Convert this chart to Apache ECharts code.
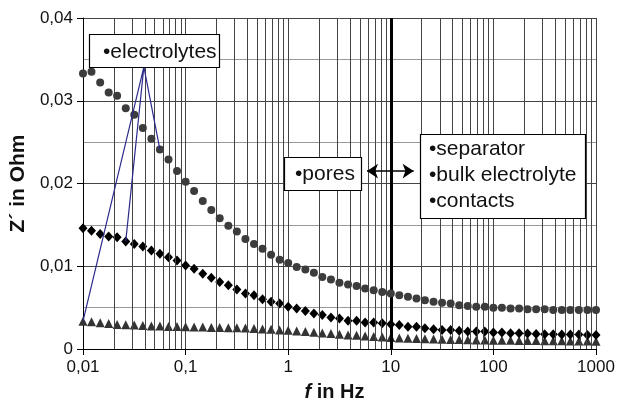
<!DOCTYPE html>
<html>
<head>
<meta charset="utf-8">
<script src="https://cdn.jsdelivr.net/npm/echarts@6/dist/echarts.min.js"></script>
<style>
    html, body { margin: 0; padding: 0; background: #fff; }
    #chart { width: 621px; height: 407px; }
</style>
</head>
<body>
<div id="chart"></div>
<script>
// frequencies in Hz (12 points per decade)
var freq = [
    0.01, 0.0121, 0.0147, 0.0178, 0.0215, 0.0261, 0.0316, 0.0383, 0.0464, 0.0562, 0.0681, 0.0825,
    0.1, 0.121, 0.147, 0.178, 0.215, 0.261, 0.316, 0.383, 0.464, 0.562, 0.681, 0.825,
    1, 1.21, 1.47, 1.78, 2.15, 2.61, 3.16, 3.83, 4.64, 5.62, 6.81, 8.25,
    10, 12.1, 14.7, 17.8, 21.5, 26.1, 31.6, 38.3, 46.4, 56.2, 68.1, 82.5,
    100, 121, 147, 178, 215, 261, 316, 383, 464, 562, 681, 825,
    1000
];
// Z' in Ohm, circles
var zCircles = [
    0.0333, 0.0335, 0.0322, 0.0310, 0.0306, 0.0291, 0.0283, 0.0267, 0.0254, 0.0241, 0.0229, 0.0215,
    0.0202, 0.0191, 0.0179, 0.0168, 0.0158, 0.0149, 0.0142, 0.0133, 0.0127, 0.0121, 0.0114, 0.0108,
    0.0104, 0.0099, 0.0096, 0.0092, 0.0087, 0.0084, 0.0080, 0.0078, 0.0076, 0.0073, 0.0071, 0.0069,
    0.0067, 0.0065, 0.0063, 0.0061, 0.0059, 0.0057, 0.0056, 0.0055, 0.0053, 0.0052, 0.0051, 0.0051,
    0.0050, 0.0050, 0.0049, 0.0049, 0.0048, 0.0048, 0.0048, 0.0047, 0.0047, 0.0047, 0.0047, 0.0047,
    0.0047
];
// diamonds
var zDiamonds = [
    0.0146, 0.0143, 0.0139, 0.0136, 0.0135, 0.0130, 0.0127, 0.0124, 0.0119, 0.0115, 0.0111, 0.0107,
    0.0101, 0.0097, 0.0091, 0.0086, 0.0081, 0.0077, 0.0072, 0.0067, 0.0065, 0.0060, 0.0057, 0.0055,
    0.0051, 0.0049, 0.0046, 0.0043, 0.0041, 0.0038, 0.0037, 0.0034, 0.0034, 0.0032, 0.0032, 0.0031,
    0.0030, 0.0029, 0.0027, 0.0027, 0.0025, 0.0024, 0.0023, 0.0023, 0.0022, 0.0021, 0.0021, 0.0021,
    0.0020, 0.0020, 0.0019, 0.0019, 0.00186, 0.00182, 0.00178, 0.00178, 0.00175, 0.00175, 0.00175, 0.0017,
    0.0017
];
// triangles
var zTriangles = [
    0.00336, 0.00329, 0.00317, 0.00309, 0.00297, 0.00293, 0.00289, 0.00285, 0.00277, 0.00277, 0.00273, 0.00273,
    0.00270, 0.00265, 0.00265, 0.00261, 0.00261, 0.00257, 0.00257, 0.00253, 0.00249, 0.00241, 0.00238, 0.00229,
    0.00226, 0.00217, 0.00210, 0.00202, 0.00194, 0.00186, 0.00178, 0.00170, 0.00166, 0.00158, 0.00151, 0.00146,
    0.00139, 0.00134, 0.00130, 0.00127, 0.00124, 0.00121, 0.00118, 0.00116, 0.00114, 0.00112, 0.00110, 0.00108,
    0.00107, 0.00106, 0.00105, 0.00104, 0.00103, 0.00102, 0.00101, 0.00100, 0.00099, 0.00098, 0.00097, 0.00096,
    0.00095
];
var xTickLabels = ['0,01', '0,1', '1', '10', '100', '1000'];
var yTickLabels = ['0', '0,01', '0,02', '0,03', '0,04'];

// annotation anchors in data units
var boundaryFreq = 10;
var calloutApex = [0.0392, 0.0341];
var arrowFrom = [5.86, 0.0215];
var arrowTo = [16.7, 0.0215];

var FONT = '"Liberation Sans", Arial, sans-serif';

function pairs(vals) {
    return freq.map(function (f, i) { return [f, vals[i]]; });
}

// minor log grid lines at 2..9 of every decade
var minorGrid = [];
[0.01, 0.1, 1, 10, 100].forEach(function (d) {
    for (var m = 2; m <= 9; m++) {
        minorGrid.push({ xAxis: +(d * m).toPrecision(2) });
    }
});

var myChart = echarts.init(document.getElementById('chart'));

var option = {
    animation: false,
    backgroundColor: '#fff',
    grid: { left: 83, right: 25, top: 18, bottom: 52 },
    xAxis: {
        type: 'log',
        logBase: 10,
        min: 0.01,
        max: 1000,
        name: '{it|f} in Hz',
        nameLocation: 'middle',
        nameGap: 33,
        nameTextStyle: {
            fontFamily: FONT, fontWeight: 'bold', fontSize: 20, color: '#111',
            padding: [0, 10, 0, 0],
            rich: { it: { fontFamily: FONT, fontStyle: 'italic', fontWeight: 'bold', fontSize: 20, color: '#111' } }
        },
        axisLine: { lineStyle: { color: '#000', width: 1 } },
        axisTick: { show: true, length: 6, lineStyle: { color: '#000' } },
        axisLabel: {
            fontFamily: FONT, fontSize: 17, color: '#111', margin: 10,
            formatter: function (v) { return xTickLabels[Math.round(Math.log10(v)) + 2]; }
        },
        splitLine: { show: true, lineStyle: { color: '#444', width: 1 } }
    },
    yAxis: {
        type: 'value',
        min: 0,
        max: 0.04,
        interval: 0.01,
        name: 'Z´ in Ohm',
        nameLocation: 'middle',
        nameGap: 53,
        nameTextStyle: { fontFamily: FONT, fontWeight: 'bold', fontSize: 21, color: '#111' },
        axisLine: { show: true, lineStyle: { color: '#000', width: 1 } },
        axisTick: { show: true, length: 6, lineStyle: { color: '#000' } },
        axisLabel: {
            fontFamily: FONT, fontSize: 17, color: '#111', margin: 10,
            formatter: function (v) { return yTickLabels[Math.round(v / 0.01)]; }
        },
        splitLine: { show: true, lineStyle: { color: '#444', width: 1 } },
        minorTick: { show: false, splitNumber: 2 },
        minorSplitLine: { show: true, lineStyle: { color: '#999', width: 1 } }
    },
    series: [
        {
            name: 'triangles',
            type: 'scatter',
            symbol: 'triangle',
            symbolSize: 9,
            itemStyle: { color: '#333', opacity: 1 },
            data: pairs(zTriangles),
            z: 3,
            markLine: {
                silent: true,
                symbol: 'none',
                label: { show: false },
                lineStyle: { color: '#444', width: 1, type: 'solid', opacity: 1 },
                data: minorGrid
            }
        },
        {
            name: 'diamonds',
            type: 'scatter',
            symbol: 'diamond',
            symbolSize: [9, 10],
            itemStyle: { color: '#000', opacity: 1 },
            data: pairs(zDiamonds),
            z: 4
        },
        {
            name: 'circles',
            type: 'scatter',
            symbol: 'circle',
            symbolSize: 8,
            itemStyle: { color: '#3c3c3c', opacity: 1 },
            data: pairs(zCircles),
            z: 5,
            markLine: {
                silent: true,
                symbol: 'none',
                symbolSize: 11,
                label: { show: false },
                lineStyle: { color: '#000', type: 'solid', opacity: 1 },
                data: [
                    { xAxis: boundaryFreq, lineStyle: { width: 3, color: '#000' } },
                    [
                        { coord: arrowFrom, symbol: 'arrow', lineStyle: { width: 1.5, color: '#000' } },
                        { coord: arrowTo, symbol: 'arrow' }
                    ]
                ]
            }
        },
        {
            name: 'callout',
            type: 'line',
            symbol: 'none',
            silent: true,
            lineStyle: { color: '#2b2b8c', width: 1.2 },
            data: [
                [freq[0], zTriangles[0]],
                calloutApex,
                [freq[5], zDiamonds[5]],
                calloutApex,
                [freq[9], zCircles[9]]
            ],
            z: 6
        }
    ],
    graphic: [
        { type: 'rect', z: 100, shape: { x: 89.5, y: 34.5, width: 130, height: 33 },
          style: { fill: '#fff', stroke: '#000', lineWidth: 1.2 } },
        { type: 'text', z: 101, style: { text: '•electrolytes', x: 103, y: 52, verticalAlign: 'middle',
          font: '21px ' + FONT, fill: '#111' } },
        { type: 'rect', z: 100, shape: { x: 284.5, y: 157.5, width: 77, height: 33 },
          style: { fill: '#fff', stroke: '#000', lineWidth: 1.2 } },
        { type: 'text', z: 101, style: { text: '•pores', x: 295, y: 174.5, verticalAlign: 'middle',
          font: '21px ' + FONT, fill: '#111' } },
        { type: 'rect', z: 100, shape: { x: 420.5, y: 134.5, width: 165, height: 84 },
          style: { fill: '#fff', stroke: '#000', lineWidth: 1.2 } },
        { type: 'text', z: 101, style: { text: '•separator', x: 429, y: 149.5, verticalAlign: 'middle',
          font: '21px ' + FONT, fill: '#111' } },
        { type: 'text', z: 101, style: { text: '•bulk electrolyte', x: 429, y: 175.5, verticalAlign: 'middle',
          font: '21px ' + FONT, fill: '#111' } },
        { type: 'text', z: 101, style: { text: '•contacts', x: 429, y: 201, verticalAlign: 'middle',
          font: '21px ' + FONT, fill: '#111' } }
    ]
};

myChart.setOption(option);
</script>
</body>
</html>
